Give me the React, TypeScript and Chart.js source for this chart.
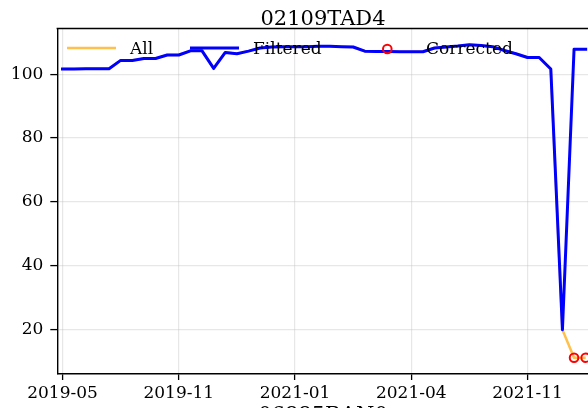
import React, { useEffect, useRef } from 'react';
import { Chart, registerables } from 'chart.js';

Chart.register(...registerables);

const chartTitle = '02109TAD4';
const nextTitle = '06885RAN0';
const tickIndex = [0, 10, 20, 30, 40];
const tickLabels = ['2019-05', '2019-11', '2021-01', '2021-04', '2021-11'];
const yTicks = [20, 40, 60, 80, 100];
const legendLabels = ['All', 'Filtered', 'Corrected'];

const filteredValues = [
  101.6, 101.6, 101.7, 101.7, 101.7, 104.3, 104.3, 104.9, 104.9, 106.0,
  106.0, 107.3, 107.3, 101.8, 106.8, 106.4, 107.2, 108.2, 108.5, 108.6,
  108.6, 108.6, 108.7, 108.7, 108.6, 108.5, 107.2, 107.1, 107.1, 107.0,
  107.0, 107.0, 108.2, 108.5, 108.8, 109.2, 109.0, 108.6, 107.4, 106.4,
  105.2, 105.2, 101.6, 19.9, 107.8, 107.8,
];
const allValues = [
  101.6, 101.6, 101.7, 101.7, 101.7, 104.3, 104.3, 104.9, 104.9, 106.0,
  106.0, 107.3, 107.3, 101.8, 106.8, 106.4, 107.2, 108.2, 108.5, 108.6,
  108.6, 108.6, 108.7, 108.7, 108.6, 108.5, 107.2, 107.1, 107.1, 107.0,
  107.0, 107.0, 108.2, 108.5, 108.8, 109.2, 109.0, 108.6, 107.4, 106.4,
  105.2, 105.2, 101.6, 19.9, 11.1, 11.1,
];
const correctedIndex = [44, 45];
const correctedValues = [11.1, 11.1];

const FONT = "'DejaVu Serif', serif";
const ORANGE = 'rgba(255,165,0,0.7)';
const BLUE = '#0000ff';
const RED = '#ff0000';
const GRID = 'rgba(176,176,176,0.3)';

const overlayPlugin = {
  id: 'overlay',
  afterDraw(chart: any) {
    const ctx = chart.ctx;
    const { left, right, top } = chart.chartArea;
    ctx.save();
    // top / right spines
    ctx.strokeStyle = '#000';
    ctx.lineWidth = 1.4;
    ctx.beginPath();
    ctx.moveTo(left - 0.7, top);
    ctx.lineTo(right, top);
    ctx.lineTo(right, chart.chartArea.bottom);
    ctx.stroke();

    // legend
    const ly = 48;
    ctx.lineCap = 'butt';
    ctx.strokeStyle = ORANGE;
    ctx.lineWidth = 2.5;
    ctx.beginPath();
    ctx.moveTo(67, ly);
    ctx.lineTo(116, ly);
    ctx.stroke();
    ctx.strokeStyle = BLUE;
    ctx.lineWidth = 3;
    ctx.beginPath();
    ctx.moveTo(190, ly);
    ctx.lineTo(239, ly);
    ctx.stroke();
    ctx.strokeStyle = RED;
    ctx.lineWidth = 2;
    ctx.beginPath();
    ctx.arc(387.3, ly + 1, 4.3, 0, Math.PI * 2);
    ctx.stroke();

    ctx.fillStyle = '#000';
    ctx.font = `17px ${FONT}`;
    ctx.textAlign = 'left';
    ctx.textBaseline = 'alphabetic';
    ctx.fillText(legendLabels[0], 130, 53.5);
    ctx.fillText(legendLabels[1], 253, 53.5);
    ctx.fillText(legendLabels[2], 426, 53.5);

    // titles
    ctx.font = `21px ${FONT}`;
    ctx.textAlign = 'center';
    ctx.fillText(chartTitle, 323, 25);
    ctx.fillText(nextTitle, 323, 421);
    ctx.restore();
  },
};

export default function App() {
  const ref = useRef<HTMLCanvasElement>(null);
  useEffect(() => {
    if (!ref.current) return;
    const chart = new Chart(ref.current, {
      type: 'line',
      data: {
        datasets: [
          {
            label: legendLabels[2],
            data: correctedIndex.map((x, i) => ({ x, y: correctedValues[i] })),
            showLine: false,
            pointRadius: 4.3,
            pointBorderWidth: 2,
            pointBorderColor: RED,
            pointBackgroundColor: 'rgba(0,0,0,0)',
            order: 1,
          },
          {
            label: legendLabels[1],
            data: filteredValues.map((y, x) => ({ x, y })),
            borderColor: BLUE,
            borderWidth: 3,
            pointRadius: 0,
            borderCapStyle: 'square',
            borderJoinStyle: 'round',
            order: 2,
          },
          {
            label: legendLabels[0],
            data: allValues.map((y, x) => ({ x, y })),
            borderColor: ORANGE,
            borderWidth: 2.5,
            pointRadius: 0,
            order: 3,
          },
        ],
      } as any,
      options: {
        animation: false,
        responsive: false,
        devicePixelRatio: 1,
        layout: { padding: { top: 28.5, left: 0, right: 11.3, bottom: 0 } },
        plugins: { legend: { display: false }, tooltip: { enabled: false }, title: { display: false } },
        scales: {
          x: {
            type: 'linear',
            min: -0.45,
            max: 45.26,
            afterBuildTicks: (s: any) => {
              s.ticks = tickIndex.map((v) => ({ value: v }));
            },
            afterFit: (s: any) => {
              s.height = 56;
            },
            ticks: {
              autoSkip: false,
              maxRotation: 0,
              color: '#000',
              font: { family: FONT, size: 17 },
              padding: 3,
              callback: (v: any) => {
                const k = tickIndex.indexOf(Number(v));
                return k >= 0 ? tickLabels[k] : '';
              },
            },
            grid: { color: GRID, lineWidth: 1.2, tickColor: '#000', tickLength: 6, tickWidth: 1.3 },
            border: { color: '#000', width: 1.4 },
          },
          y: {
            type: 'linear',
            min: 6.0,
            max: 114.3,
            afterBuildTicks: (s: any) => {
              s.ticks = yTicks.map((v) => ({ value: v }));
            },
            afterFit: (s: any) => {
              s.width = 57.3;
            },
            ticks: {
              color: '#000',
              font: { family: FONT, size: 17 },
              padding: 7,
              callback: (v: any) => String(v),
            },
            grid: { color: GRID, lineWidth: 1.2, tickColor: '#000', tickLength: 7, tickWidth: 1.3 },
            border: { color: '#000', width: 1.4 },
          },
        },
      } as any,
      plugins: [overlayPlugin],
    });
    return () => chart.destroy();
  }, []);

  return (
    <div
      style={{
        position: 'fixed',
        left: 0,
        top: 0,
        width: 588,
        height: 408,
        overflow: 'hidden',
        background: '#fff',
      }}
    >
      <canvas ref={ref} width={600} height={430} style={{ width: 600, height: 430, display: 'block' }} />
    </div>
  );
}
